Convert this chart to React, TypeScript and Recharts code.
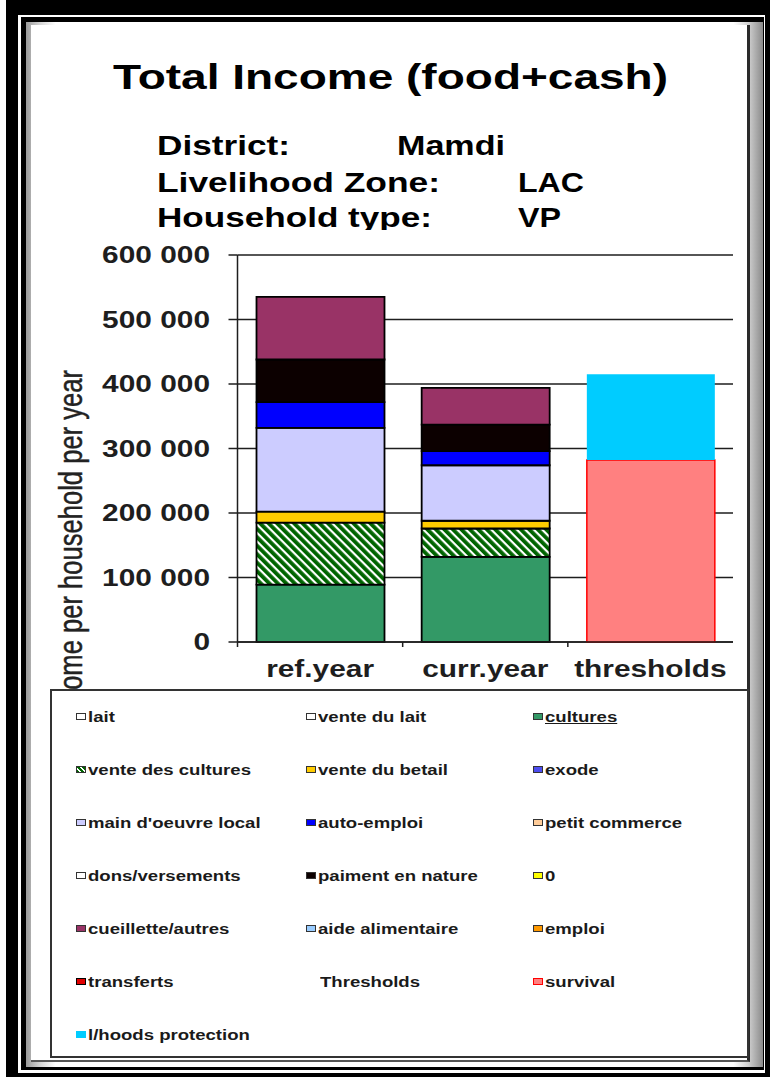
import React from 'react'
import { BarChart, Bar, XAxis, YAxis, CartesianGrid } from 'recharts'

// --- data ---
const CATEGORIES = ['ref.year', 'curr.year', 'thresholds']
const CULTURES = [89000, 132000, 0]
const VENTE_CULTURES = [96000, 44000, 0]
const VENTE_BETAIL = [17000, 12000, 0]
const MAIN_OEUVRE = [130000, 86000, 0]
const AUTO_EMPLOI = [40000, 22000, 0]
const PAIMENT_NATURE = [66000, 41000, 0]
const CUEILLETTE = [97000, 57000, 0]
const SURVIVAL = [0, 0, 282000]
const PROTECTION = [0, 0, 133000]
const Y_TICKS = [0, 100000, 200000, 300000, 400000, 500000, 600000]

const LEGEND_LABELS = [
  'lait', 'vente du lait', 'cultures',
  'vente des cultures', 'vente du betail', 'exode',
  "main d'oeuvre local", 'auto-emploi', 'petit commerce',
  'dons/versements', 'paiment en nature', '0',
  'cueillette/autres', 'aide alimentaire', 'emploi',
  'transferts', 'Thresholds', 'survival',
  'l/hoods protection',
]

// --- styling ---
const FONT = '"Liberation Sans", Arial, Helvetica, sans-serif'
const S = 1.27 // the source picture is stretched horizontally
const INK = '#1e1e1e'

const SWATCH: Record<string, { fill: string | null; border?: string }> = {
  'lait':                { fill: '#FFFFFF' },
  'vente du lait':       { fill: '#FFFFFF' },
  'cultures':            { fill: '#339966' },
  'vente des cultures':  { fill: 'hatch' },
  'vente du betail':     { fill: '#FFCC00' },
  'exode':               { fill: '#4D4DF0' },
  "main d'oeuvre local": { fill: '#CCCCFF' },
  'auto-emploi':         { fill: '#0000FF' },
  'petit commerce':      { fill: '#FFCC99' },
  'dons/versements':     { fill: '#FFFFFF' },
  'paiment en nature':   { fill: '#0C0000' },
  '0':                   { fill: '#FFFF00' },
  'cueillette/autres':   { fill: '#993366' },
  'aide alimentaire':    { fill: '#99CCFF' },
  'emploi':              { fill: '#FF9900' },
  'transferts':          { fill: '#E00000', border: '#000' },
  'Thresholds':          { fill: null },
  'survival':            { fill: '#FF8080', border: '#FF0000' },
  'l/hoods protection':  { fill: '#00CCFF', border: '#00CCFF' },
}

const SERIES = [
  { key: 'cultures',           values: CULTURES,        fill: '#339966',         stroke: '#000' },
  { key: 'vente des cultures', values: VENTE_CULTURES,  fill: 'url(#hatchGreen)', stroke: '#000' },
  { key: 'vente du betail',    values: VENTE_BETAIL,    fill: '#FFCC00',         stroke: '#000' },
  { key: "main d'oeuvre local", values: MAIN_OEUVRE,    fill: '#CCCCFF',         stroke: '#000' },
  { key: 'auto-emploi',        values: AUTO_EMPLOI,     fill: '#0000FF',         stroke: '#000' },
  { key: 'paiment en nature',  values: PAIMENT_NATURE,  fill: '#0C0000',         stroke: '#000' },
  { key: 'cueillette/autres',  values: CUEILLETTE,      fill: '#993366',         stroke: '#000' },
  { key: 'survival',           values: SURVIVAL,        fill: '#FF8080',         stroke: '#FF0000' },
  { key: 'l/hoods protection', values: PROTECTION,      fill: '#00CCFF',         stroke: 'none' },
]

const data = CATEGORIES.map((name, i) => {
  const row: Record<string, string | number> = { name }
  SERIES.forEach(s => { row[s.key] = s.values[i] })
  return row
})

// chart geometry
const CHART_LEFT = 32
const CHART_TOP = 230
const CHART_W = 715
const CHART_H = 460
const MARGIN = { top: 25, right: 14, bottom: 10, left: 0 }
const Y_AXIS_W = 205.5
const X_AXIS_H = 38
const PLOT_W = CHART_W - MARGIN.left - MARGIN.right - Y_AXIS_W
const HALF_BAND = PLOT_W / CATEGORIES.length / 2

const fmt = (v: number) => String(v).replace(/\B(?=(\d{3})+(?!\d))/g, ' ')

function YTick(props: any) {
  const { x, y, payload } = props
  return (
    <text
      transform={`translate(${x},${y}) scale(${S},1)`}
      textAnchor="end"
      dy="0.36em"
      fontFamily={FONT}
      fontWeight="bold"
      fontSize={23.5}
      fill={INK}
    >
      {fmt(payload.value)}
    </text>
  )
}

function XTick(props: any) {
  const { x, y, payload } = props
  return (
    <g>
      <line x1={x - HALF_BAND} x2={x - HALF_BAND} y1={y} y2={y + 5} stroke={INK} strokeWidth={1.5} />
      <text
        transform={`translate(${x},${y + 35}) scale(${S},1)`}
        textAnchor="middle"
        fontFamily={FONT}
        fontWeight="bold"
        fontSize={23.5}
        fill={INK}
      >
        {payload.value}
      </text>
    </g>
  )
}

// the axis title runs under the legend box, as in the source
function YLabel() {
  return (
    <text
      transform={`translate(50,140) scale(${S},1) rotate(-90)`}
      textAnchor="end"
      fontFamily={FONT}
      fontSize={25.5}
      textLength={354}
      lengthAdjust="spacingAndGlyphs"
      fill="#222"
      stroke="#222"
      strokeWidth={0.35}
    >
      Income per household per year
    </text>
  )
}

function Header() {
  const t = { fontFamily: FONT, fontWeight: 'bold' as const, fill: '#000' }
  return (
    <svg width={770} height={240} style={{ position: 'absolute', left: 0, top: 0 }}>
      <text x={113} y={89} fontSize={35} textLength={555} lengthAdjust="spacingAndGlyphs" {...t}>
        Total Income (food+cash)
      </text>
      <text x={157} y={155} fontSize={28} textLength={133} lengthAdjust="spacingAndGlyphs" {...t}>District:</text>
      <text x={397} y={155} fontSize={28} textLength={108} lengthAdjust="spacingAndGlyphs" {...t}>Mamdi</text>
      <text x={157} y={192} fontSize={28} textLength={283} lengthAdjust="spacingAndGlyphs" {...t}>Livelihood Zone:</text>
      <text x={518} y={192} fontSize={28} textLength={66} lengthAdjust="spacingAndGlyphs" {...t}>LAC</text>
      <text x={157} y={227} fontSize={28} textLength={275} lengthAdjust="spacingAndGlyphs" {...t}>Household type:</text>
      <text x={518} y={227} fontSize={28} textLength={43} lengthAdjust="spacingAndGlyphs" {...t}>VP</text>
    </svg>
  )
}

const LEGEND_COLS = [24, 254, 481]
const LEGEND_ROW0 = 25.5
const LEGEND_ROW_STEP = 53

function LegendBox() {
  return (
    <div
      style={{
        position: 'absolute', left: 50, top: 689, width: 695, height: 365,
        border: '2px solid #333', background: '#fff', fontFamily: FONT,
      }}
    >
      {LEGEND_LABELS.map((label, i) => {
        const sw = SWATCH[label]
        const col = LEGEND_COLS[i % 3]
        const row = Math.floor(i / 3)
        const bg = sw.fill === 'hatch'
          ? 'repeating-linear-gradient(45deg, #006400 0 2px, #fff 2px 3.5px)'
          : sw.fill ?? 'transparent'
        return (
          <div
            key={label}
            style={{
              position: 'absolute', left: col, top: LEGEND_ROW0 + row * LEGEND_ROW_STEP - 10,
              height: 20, display: 'flex', alignItems: 'center', whiteSpace: 'nowrap',
            }}
          >
            <span
              style={{
                display: 'inline-block', width: 8, height: 5, background: bg,
                border: sw.fill ? `1.5px solid ${sw.border ?? '#333'}` : '1.5px solid transparent',
              }}
            />
            <span
              style={{
                display: 'inline-block', marginLeft: sw.fill ? 2 : 4,
                fontSize: 14.5, fontWeight: 'bold', color: '#1a1a1a',
                transform: `scaleX(${1.28})`, transformOrigin: 'left center',
                textDecoration: label === 'cultures' ? 'underline' : 'none',
              }}
            >
              {label}
            </span>
          </div>
        )
      })}
    </div>
  )
}

export default function App() {
  return (
    <div
      style={{
        position: 'absolute', left: 0, top: 0, width: 770, height: 1077,
        background: '#fff', overflow: 'hidden',
      }}
    >
      {/* frame */}
      <div style={{ position: 'absolute', left: 6, top: 0, width: 764, height: 1077, background: '#000' }} />
      <div style={{ position: 'absolute', left: 18, top: 15, width: 747, height: 1058, background: '#fff' }} />
      <div style={{ position: 'absolute', left: 21, top: 17, width: 743, height: 1053, background: '#000' }} />
      <div style={{ position: 'absolute', left: 26, top: 22, width: 737, height: 1045, background: 'linear-gradient(90deg, #9a9a9a, #d6d6d6 2%, #fff 4%, #fff 96%, #d0d0d0 98%, #8a8a8a)' }} />
      <div
        style={{
          position: 'absolute', left: 31, top: 25, width: 716, height: 1035,
          background: '#fff', borderRight: '3px solid #2a2a2a', borderBottom: '2px solid #555',
        }}
      />

      <svg width={0} height={0} style={{ position: 'absolute' }}>
        <defs>
          <pattern id="hatchGreen" width={6} height={6} patternUnits="userSpaceOnUse" patternTransform="rotate(-45)">
            <rect width={6} height={6} fill="#fff" />
            <rect width={3.8} height={6} fill="#006400" />
          </pattern>
        </defs>
      </svg>

      <Header />

      <div style={{ position: 'absolute', left: CHART_LEFT, top: CHART_TOP, width: CHART_W, height: CHART_H, background: '#fff' }}>
        <BarChart width={CHART_W} height={CHART_H} data={data} margin={MARGIN} barSize={128}>
          <CartesianGrid horizontal vertical={false} stroke={INK} strokeWidth={1.5} />
          <XAxis
            dataKey="name"
            height={X_AXIS_H}
            axisLine={{ stroke: INK, strokeWidth: 1.5 }}
            tickLine={false}
            tickSize={0}
            tickMargin={0}
            interval={0}
            tick={(p: any) => <XTick {...p} />}
          />
          <YAxis
            width={Y_AXIS_W}
            domain={[0, 600000]}
            ticks={Y_TICKS}
            interval={0}
            axisLine={{ stroke: INK, strokeWidth: 1.5 }}
            tickLine={{ stroke: INK, strokeWidth: 1.5 }}
            tickSize={9}
            tickMargin={18.5}
            tick={(p: any) => <YTick {...p} />}
            label={{ content: () => <YLabel /> }}
          />
          {SERIES.map(s => (
            <Bar
              key={s.key}
              dataKey={s.key}
              stackId="income"
              fill={s.fill}
              stroke={s.stroke}
              strokeWidth={s.stroke === '#000' ? 1.8 : 1.5}
              isAnimationActive={false}
            />
          ))}
        </BarChart>
      </div>

      <LegendBox />
    </div>
  )
}
